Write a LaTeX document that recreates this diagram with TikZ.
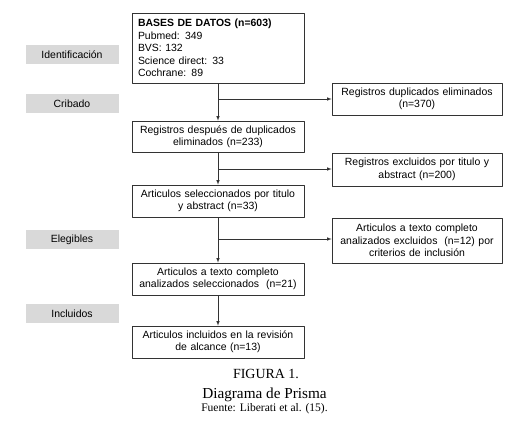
\documentclass[tikz,border=0pt]{standalone}
\usepackage{fontspec}
\setmainfont{Liberation Serif}
\setsansfont{Liberation Sans}
\begin{document}
\begin{tikzpicture}[>=latex,line join=bevel,
  every node/.style={font=\sffamily\fontsize{10.5}{12.5}\selectfont},
  box/.style={draw=black!80,line width=0.7pt,inner xsep=6bp,inner ysep=2bp,text width=160bp,align=center,minimum height=32bp},
  sidebox/.style={box,text width=158bp},
  stage/.style={fill=black!15,text width=93bp,align=center,inner sep=0pt,minimum height=19bp},
  link/.style={black!80,line width=0.6pt,->},
  caption/.style={anchor=base,font=\rmfamily\fontsize{#1}{#1}\selectfont},
]
\useasboundingbox (0bp,0bp) rectangle (522bp,422bp);
%%
\node (stage_0) at (72bp,367.5bp) [stage] {Identificación};
  \node (stage_1) at (72bp,318bp) [stage] {Cribado};
  \node (stage_2) at (72bp,182.5bp) [stage] {Elegibles};
  \node (stage_3) at (72bp,108bp) [stage] {Incluidos};
%%
\node (node_0) at (218bp,374bp) [box,align=left,minimum height=70bp] {\textbf{BASES DE DATOS (n=603)}\\Pubmed: 349\\BVS: 132\\Science direct: 33\\Cochrane: 89};
  \node (node_1) at (218bp,285.5bp) [box,minimum height=31bp] {Registros después de duplicados\\eliminados (n=233)};
  \node (node_2) at (218bp,221bp) [box] {Articulos seleccionados por titulo\\y abstract (n=33)};
  \node (node_3) at (218bp,143bp) [box] {Articulos a texto completo\\analizados seleccionados\ \ (n=21)};
  \node (node_4) at (218bp,80bp) [box] {Articulos incluidos en la revisión\\de alcance (n=13)};
%%
\node (side_0) at (417bp,323bp) [sidebox] {Registros duplicados eliminados\\(n=370)};
  \node (side_1) at (417bp,252.5bp) [sidebox,minimum height=33bp] {Registros excluidos por titulo y\\abstract (n=200)};
  \node (side_2) at (417bp,181.5bp) [sidebox,minimum height=45bp] {Articulos a texto completo\\analizados excluidos\ \ (n=12) por\\criterios de inclusión};
%%
\coordinate (branch_0) at (218bp,323bp);
  \coordinate (branch_1) at (218bp,253bp);
  \coordinate (branch_2) at (218bp,183bp);
%
\draw [link] (node_0) -- (node_1);
  \draw [link] (node_1) -- (node_2);
  \draw [link] (node_2) -- (node_3);
  \draw [link] (node_3) -- (node_4);
  \draw [link] (branch_0) -- (branch_0 -| side_0.west);
  \draw [link] (branch_1) -- (branch_1 -| side_1.west);
  \draw [link] (branch_2) -- (branch_2 -| side_2.west);
%%
\node (caption_0) at (266bp,43bp) [caption=14] {FIGURA 1.};
  \node (caption_1) at (264.5bp,24bp) [caption=15.3] {Diagrama de Prisma};
  \node (caption_2) at (264.5bp,11bp) [caption=11.6] {Fuente: Liberati et al. (15).};
%
\end{tikzpicture}
\end{document}
